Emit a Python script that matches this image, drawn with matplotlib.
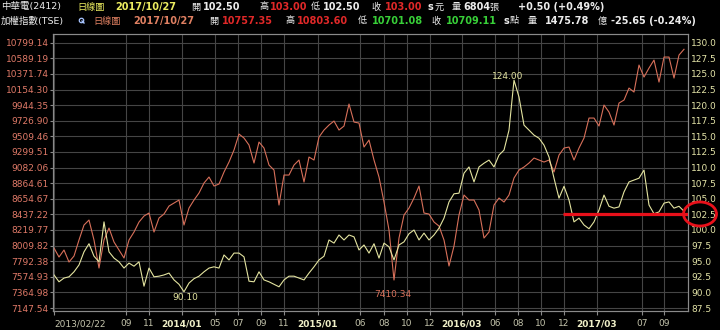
import matplotlib.pyplot as plt
from matplotlib.patches import Ellipse
from matplotlib.lines import Line2D
import numpy as np

plt.rcParams['font.family'] = ['DejaVu Sans', 'Noto Sans CJK TC']

# samples from 2013/02/22 to 2017/10/27, one point per ~week
taiex = [7973.3, 7849.4, 7945.8, 7780.6, 7863.2, 8083.4, 8289.9, 8358.7, 8083.4, 7698.1,
         8083.4, 8248.6, 8055.9, 7945.8, 7835.7, 8083.4, 8193.5, 8331.2, 8413.7, 8455.0,
         8193.5, 8386.2, 8441.3, 8551.4, 8592.6, 8633.9, 8289.9, 8523.8, 8633.9, 8730.3,
         8867.9, 8950.5, 8826.6, 8854.2, 9019.3, 9157.0, 9322.1, 9542.3, 9487.3, 9390.9,
         9143.2, 9432.2, 9349.6, 9115.6, 9046.8, 8565.1, 8978.0, 8978.0, 9115.6, 9184.4,
         8881.7, 9225.7, 9184.4, 9501.0, 9597.3, 9666.1, 9721.2, 9597.3, 9652.4, 9955.2,
         9707.4, 9693.7, 9363.4, 9459.7, 9184.4, 8950.5, 8606.4, 8221.0, 7532.9, 8110.9,
         8427.5, 8523.8, 8661.5, 8826.6, 8455.0, 8441.3, 8331.2, 8276.1, 8083.4, 7725.6,
         8000.8, 8427.5, 8702.7, 8633.9, 8633.9, 8496.3, 8110.9, 8193.5, 8565.1, 8661.5,
         8606.4, 8702.7, 8936.7, 9046.8, 9088.1, 9143.2, 9212.0, 9184.4, 9157.0, 9184.4,
         9019.3, 9253.2, 9349.6, 9363.4, 9184.4, 9349.6, 9487.3, 9762.5, 9762.5, 9652.4,
         9941.4, 9845.0, 9666.1, 9968.9, 10010.2, 10175.4, 10120.3, 10491.9, 10326.8, 10450.6,
         10560.7, 10257.9, 10602.0, 10602.0, 10313.0, 10629.5, 10709.1]

cht = [92.8, 91.7, 92.3, 92.5, 93.3, 94.4, 96.5, 97.8, 95.8, 94.9,
       101.3, 96.5, 95.5, 94.9, 93.9, 94.7, 94.2, 94.9, 91.0, 93.9,
       92.5, 92.6, 92.8, 93.1, 92.0, 91.3, 90.1, 91.5, 92.2, 92.6,
       93.3, 93.9, 94.1, 93.9, 96.0, 95.2, 96.3, 96.3, 95.7, 91.8,
       91.7, 93.3, 92.0, 91.7, 91.3, 90.9, 92.0, 92.6, 92.6, 92.3,
       92.0, 93.1, 94.1, 95.2, 95.8, 98.4, 97.9, 99.2, 98.4, 99.2,
       98.9, 96.8, 97.6, 96.3, 97.8, 95.5, 97.9, 97.3, 95.2, 97.6,
       98.1, 99.4, 100.0, 98.4, 99.5, 98.4, 99.2, 100.3, 101.9, 104.5,
       105.8, 105.9, 109.1, 110.1, 107.7, 110.1, 110.7, 111.2, 110.1, 112.0,
       112.8, 116.0, 124.0, 121.3, 116.8, 116.0, 115.2, 114.7, 113.6, 111.7,
       108.3, 105.1, 107.0, 104.8, 101.3, 101.9, 100.8, 100.2, 101.3, 103.2,
       105.6, 103.8, 103.5, 103.7, 106.1, 107.7, 108.0, 108.3, 109.6, 104.0,
       102.6, 102.9, 104.3, 104.5, 103.5, 103.8, 103.0]

x_ticks = [0, 14.4, 19, 25.6, 32.2, 36.8, 41.4, 46, 52.8, 61.2, 66, 70.6,
           75.2, 81.6, 88.2, 92.8, 97.4, 102, 108.6, 117.6, 122]
x_labels = ["2013/02/22", "09", "11", "2014/01", "05", "07", "09", "11", "2015/01",
            "06", "08", "10", "12", "2016/03", "06", "08", "10", "12", "2017/03", "07", "09"]

left_labels = ["7147.54", "7364.98", "7574.93", "7792.38", "8009.82", "8219.77",
               "8437.22", "8654.67", "8864.61", "9082.06", "9299.51", "9509.46",
               "9726.90", "9944.35", "10154.30", "10371.74", "10589.19", "10799.14"]
right_ticks = np.arange(87.5, 130.01, 2.5)

support = 102.5

bg = "#000000"
c_idx = "#d8705a"
c_stk = "#e4e4a0"
grid_c = "#454545"
spine_c = "#8a8a8a"

fig = plt.figure(figsize=(7.2, 3.3), dpi=100, facecolor=bg)
ax = fig.add_axes([53 / 720, 19.3 / 330, 634.7 / 720, 276.7 / 330])
ax.set_facecolor(bg)
ax2 = ax.twinx()

r_lo, r_hi = 87.07, 131.4
lo_v, hi_v = float(left_labels[0]), float(left_labels[-1])
per = (hi_v - lo_v) / (right_ticks[-1] - right_ticks[0])
ax2.set_ylim(r_lo, r_hi)
ax.set_ylim(lo_v + (r_lo - right_ticks[0]) * per, lo_v + (r_hi - right_ticks[0]) * per)

x = np.arange(len(taiex))
ax.plot(x, taiex, color=c_idx, lw=0.8)
ax2.plot(x, cht, color=c_stk, lw=0.8)
ax.set_xlim(-0.2, 126.74)

ax.set_yticks(np.linspace(lo_v, hi_v, len(left_labels)))
ax.set_yticklabels(left_labels)
ax2.set_yticks(right_ticks)
ax2.set_yticklabels([f"{v:.1f}" for v in right_ticks])

ax.set_xticks(x_ticks)
ax.set_xticklabels(x_labels)
for i, t in enumerate(ax.get_xticklabels()):
    t.set_fontsize(6.5)
    if "/" in x_labels[i] and i > 0:
        t.set_fontweight("bold")
        t.set_color("#f0f0c8")
    else:
        t.set_color("#c4c4ac")
ax.get_xticklabels()[0].set_ha("left")

ax.grid(True, color=grid_c, lw=0.8)
ax.tick_params(axis="x", length=3, color=spine_c, pad=3)
ax.tick_params(axis="y", length=2.5, color=spine_c, labelcolor="#e07a68", labelsize=6.5, pad=0.5)
ax2.tick_params(axis="y", length=0, labelcolor="#e4e4a8", labelsize=6.5, pad=2.5)
for a in (ax, ax2):
    for s in a.spines.values():
        s.set_color(spine_c)
        s.set_linewidth(0.8)

# marked points
ax2.annotate("124.00", (92, 124.0), xytext=(-6, 4), textcoords="offset pixels",
             ha="center", va="center", color=c_stk, fontsize=6.5)
ax2.annotate("90.10", (26, 90.1), xytext=(1, -6), textcoords="offset pixels",
             ha="center", va="center", color=c_stk, fontsize=6.5)
ax.annotate("7410.34", (68, 7532.9), xytext=(-1, -14), textcoords="offset pixels",
            ha="center", va="center", color=c_idx, fontsize=6.5)

# support line and circled label
ax2.hlines(support, 101.8, 126.74, color="#e8101a", lw=2.3, zorder=5)
fig.add_artist(Ellipse((700 / 720, 1 - 214 / 330), 33 / 720, 24 / 330,
                       transform=fig.transFigure, fill=False, ec="#e8101a", lw=2))

# header lines
white = "#ececec"
red = "#e02828"
green = "#38d038"
yel = "#ecec60"
sal = "#e08062"
row1 = [(1, "中華電(2412)", white, False), (77, "日線圖", yel, False),
        (115, "2017/10/27", yel, True), (191, "開", white, False),
        (203, "102.50", white, True), (260, "高", white, False),
        (270, "103.00", red, True), (311, "低", white, False),
        (323, "102.50", white, True), (371, "收", white, False),
        (385, "103.00", red, True), (427, "s", white, True),
        (435, "元", white, False), (452, "量", white, False),
        (463, "6804", white, True), (489, "張", white, False),
        (518, "+0.50 (+0.49%)", white, True)]
row2 = [(1, "加權指數(TSE)", white, False), (93, "日線圖", sal, False),
        (133, "2017/10/27", sal, True), (209, "開", white, False),
        (222, "10757.35", red, True), (285, "高", white, False),
        (297, "10803.60", red, True), (358, "低", white, False),
        (372, "10701.08", green, True), (431, "收", white, False),
        (446, "10709.11", green, True), (503, "s", white, True),
        (510, "點", white, False), (528, "量", white, False),
        (545, "1475.78", white, True), (598, "億", white, False),
        (611, "-25.65 (-0.24%)", white, True)]
for ypx, row in ((7, row1), (21, row2)):
    for xpx, txt, col, bold in row:
        if xpx == 1:
            size = 6.8
        elif bold:
            size = 7.0
        else:
            size = 6.6
        fig.text(xpx / 720, 1 - ypx / 330, txt, color=col, ha="left", va="center",
                 fontsize=size, fontweight="bold" if bold else "normal")

# small magnifier icon
fig.add_artist(Line2D([80.5 / 720], [1 - 19.5 / 330], marker="o", ms=3.2, mfc="none",
                      mec="#a8c4ff", mew=0.9, transform=fig.transFigure))
fig.add_artist(Line2D([82 / 720, 84 / 720], [1 - 21 / 330, 1 - 23 / 330], color="#a8c4ff",
                      lw=1, transform=fig.transFigure))

fig.savefig("out.png", dpi=100, facecolor=bg)
